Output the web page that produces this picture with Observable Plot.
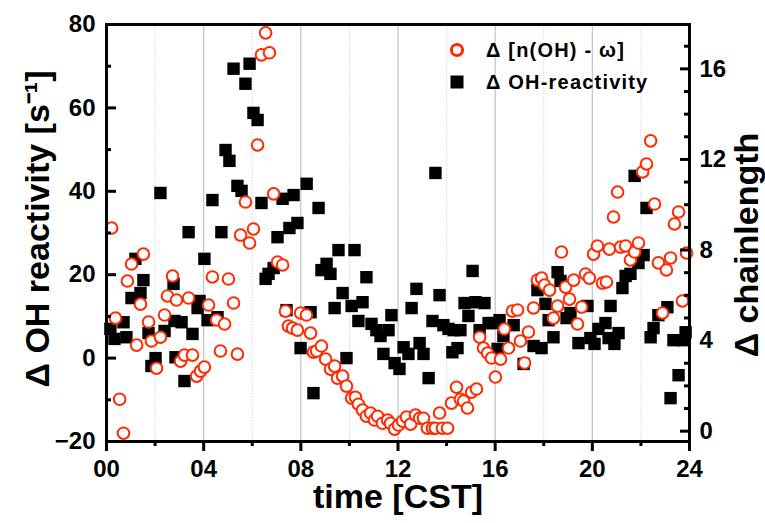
<!DOCTYPE html>
<html>
<head>
<meta charset="utf-8">
<script src="https://cdn.jsdelivr.net/npm/d3@7"></script>
<script src="https://cdn.jsdelivr.net/npm/@observablehq/plot@0.6"></script>
<style>
  html, body { margin: 0; padding: 0; background: #fff; }
  #wrap { position: relative; width: 765px; height: 523px; font-family: "Liberation Sans", Arial, sans-serif; }
  .leg { position: absolute; height: 24px; display: flex; align-items: center; font-weight: bold; font-size: 20px; letter-spacing: 1.2px; color: #000; white-space: nowrap; }
  .leg svg { display: block; margin-right: 20px; }
</style>
</head>
<body>
<div id="wrap"><div id="chart"></div></div>
<script>
// ---- data ----
// Δ OH-reactivity (left axis, s^-1), black squares
const ohHour = [0.16,0.33,0.70,0.82,1.03,1.19,1.40,1.52,1.73,1.85,2.02,2.22,2.39,2.76,2.80,2.84,3.09,3.21,3.38,3.54,3.75,3.83,4.03,4.16,4.36,4.57,4.73,4.90,5.06,5.23,5.39,5.56,5.72,5.89,6.05,6.22,6.38,6.55,6.67,6.88,7.04,7.25,7.41,7.53,7.70,7.86,7.99,8.24,8.40,8.52,8.73,8.85,9.06,9.22,9.39,9.55,9.72,9.88,10.09,10.21,10.37,10.54,10.70,10.91,11.11,11.28,11.40,11.61,11.73,11.86,12.06,12.23,12.43,12.56,12.76,12.89,13.05,13.26,13.42,13.54,13.71,13.87,14.08,14.24,14.29,14.45,14.57,14.74,14.90,15.07,15.19,15.36,15.56,15.73,15.89,16.10,16.18,16.34,16.76,17.17,17.58,17.74,17.91,18.07,18.20,18.40,18.57,18.69,18.94,19.10,19.43,19.80,19.92,20.09,20.25,20.54,20.67,20.75,20.91,21.08,21.24,21.37,21.57,21.74,21.90,22.11,22.23,22.40,22.52,22.72,23.09,23.22,23.34,23.55,23.75,23.84];
const ohValue = [7.0,4.6,8.6,5.0,14.4,23.8,15.6,18.7,6.0,-1.9,0.0,39.6,6.5,17.8,8.9,0.2,8.6,-5.5,30.2,5.8,12.0,13.7,23.8,9.1,37.9,9.8,30.2,49.9,47.3,69.4,41.3,40.1,65.8,70.6,58.8,57.1,37.2,19.0,20.2,21.6,29.0,38.2,11.5,31.2,39.1,32.4,2.4,41.8,11.0,-8.4,36.0,21.1,22.6,20.2,12.0,25.9,15.6,0.0,12.5,25.9,8.9,13.4,19.4,8.2,6.7,5.3,1.0,6.7,10.3,-1.2,-2.6,2.6,1.0,12.0,16.6,3.6,1.0,-4.8,8.9,44.4,15.1,7.9,7.0,1.4,6.7,2.4,6.7,13.2,10.1,20.9,13.4,6.7,13.2,8.4,8.4,2.2,9.1,5.3,7.9,-1.4,2.9,16.3,2.4,13.0,9.1,5.0,20.6,18.5,9.6,10.8,3.6,12.5,4.8,3.4,7.0,8.4,4.8,12.5,3.4,6.0,16.8,19.7,20.2,43.7,22.8,24.7,36.0,5.0,7.2,10.3,12.2,-9.6,4.3,-4.1,4.3,6.2];

// Δ [n(OH) - ω] (right axis, Δ chainlength), red open circles
const chainHour = [0.21,0.37,0.54,0.70,0.86,1.03,1.24,1.40,1.52,1.73,1.85,2.06,2.22,2.39,2.51,2.72,2.88,3.05,3.21,3.38,3.54,3.71,3.87,4.03,4.20,4.36,4.53,4.69,4.86,5.02,5.23,5.39,5.52,5.72,5.89,6.05,6.22,6.38,6.55,6.71,6.88,7.04,7.25,7.37,7.49,7.66,7.86,7.99,8.23,8.40,8.52,8.65,8.85,9.02,9.22,9.39,9.51,9.72,9.88,10.09,10.25,10.37,10.54,10.70,10.87,11.03,11.16,11.36,11.57,11.69,11.86,12.02,12.19,12.35,12.52,12.72,12.89,13.05,13.21,13.42,13.54,13.71,13.83,14.04,14.20,14.41,14.57,14.70,14.86,15.03,15.23,15.36,15.52,15.69,15.85,16.01,16.22,16.38,16.55,16.71,16.92,17.04,17.21,17.37,17.58,17.74,17.91,18.03,18.24,18.40,18.57,18.73,18.90,19.06,19.23,19.39,19.56,19.72,19.88,20.05,20.21,20.42,20.58,20.70,20.87,21.04,21.16,21.37,21.57,21.74,21.90,22.07,22.23,22.40,22.56,22.72,22.89,23.05,23.22,23.38,23.55,23.71,23.88];
const chainValue = [8.97,4.99,1.41,-0.09,6.63,7.38,3.80,5.61,7.82,4.82,3.98,2.78,4.15,5.13,5.97,6.85,5.79,3.09,3.36,5.88,3.36,2.43,2.65,2.83,5.57,6.81,4.91,3.54,4.73,6.72,5.66,3.40,8.66,10.12,8.31,8.93,12.64,16.62,17.59,16.71,10.48,7.47,7.34,5.30,4.64,4.55,4.46,5.22,5.13,4.33,3.49,3.54,3.76,3.18,2.74,2.87,2.34,2.43,1.99,1.46,1.50,1.19,0.93,0.66,0.80,0.49,0.66,0.35,0.49,0.35,0.09,0.27,0.44,0.62,0.31,0.71,0.57,0.57,0.13,0.13,0.13,0.80,0.13,0.13,1.24,1.94,1.41,1.33,1.02,1.72,1.86,4.15,3.67,3.45,3.23,2.39,3.18,4.51,3.67,5.30,5.35,3.98,3.01,4.38,5.44,6.67,6.76,6.45,6.23,4.99,5.52,7.91,6.36,5.83,6.67,4.73,5.48,6.94,6.76,7.82,8.18,6.54,6.59,8.04,9.46,10.56,8.13,8.18,7.56,7.91,8.31,11.45,11.80,12.82,10.03,7.43,5.22,7.12,7.65,9.15,9.68,5.75,7.87];

// axes / ticks / labels
const xDomain = [0, 24];
const yDomain = [-20, 80];
const xMajorTicks = [0, 4, 8, 12, 16, 20, 24];
const xMinorTicks = [2, 6, 10, 14, 18, 22];
const xGridMajor = [4, 8, 12, 16, 20];
const yMajorTicks = [-20, 0, 20, 40, 60, 80];
const yMinorTicks = [-10, 10, 30, 50, 70];
const chainMajorTicks = [0, 4, 8, 12, 16];
const chainMinorTicks = [1, 2, 3, 5, 6, 7, 9, 10, 11, 13, 14, 15, 17];
// secondary-axis mapping: chainlength -> left-axis units
const chainOffset = -17.52, chainScale = 5.43;
const xLabel = "time [CST]";
const yLabel = "\u0394 OH reactivity [s\u207B\u00B9]";
const y2Label = "\u0394 chainlength";
const legendLabels = ["\u0394 [n(OH) - \u03C9]", "\u0394 OH-reactivity"];
const redColor = "#ff2a00";

const toR = c => chainOffset + chainScale * c;
const fromR = r => (r - chainOffset) / chainScale;
const oh = ohHour.map((h, i) => ({h, v: ohValue[i]}));
const ch = chainHour.map((h, i) => ({h, v: chainValue[i]}));

const chart = Plot.plot({
  width: 765, height: 523,
  marginLeft: 106, marginRight: 76, marginTop: 24, marginBottom: 82,
  style: {fontFamily: '"Liberation Sans", Arial, sans-serif', fontWeight: "bold", fontSize: "24px", color: "#000", background: "#fff", overflow: "visible"},
  x: {domain: xDomain, axis: null},
  y: {domain: yDomain, axis: null},
  marks: [
    Plot.gridX(xMinorTicks, {stroke: "#d6d6d6", strokeOpacity: 1, strokeWidth: 1, strokeDasharray: "1.5,1.5"}),
    Plot.gridX(xGridMajor, {stroke: "#c2c2c2", strokeOpacity: 1, strokeWidth: 1.2}),
    Plot.dot(oh, {x: "h", y: "v", symbol: "square", r: 7, fill: "#000", stroke: "none"}),
    Plot.dot(ch, {x: "h", y: d => toR(d.v), r: 5.8, fill: "#fff", stroke: redColor, strokeWidth: 2}),
    Plot.frame({stroke: "#000", strokeWidth: 3}),
    Plot.axisX(xMajorTicks, {label: null, tickSize: 10, tickPadding: 8, strokeWidth: 3, tickFormat: d => String(d).padStart(2, "0")}),
    Plot.axisX(xMinorTicks, {label: null, tickSize: 5, strokeWidth: 3, tickFormat: () => ""}),
    Plot.axisY(yMajorTicks, {label: null, anchor: "left", tickSize: -10, tickPadding: 21, strokeWidth: 3}),
    Plot.axisY(yMinorTicks, {label: null, anchor: "left", tickSize: -5, strokeWidth: 3, tickFormat: () => ""}),
    Plot.axisY(chainMajorTicks.map(toR), {label: null, anchor: "right", tickSize: -10, tickPadding: 20, strokeWidth: 3, tickFormat: r => String(Math.round(fromR(r)))}),
    Plot.axisY(chainMinorTicks.map(toR), {label: null, anchor: "right", tickSize: -6, strokeWidth: 3, tickFormat: () => ""}),
    Plot.text([yLabel], {frameAnchor: "left", textAnchor: "middle", lineAnchor: "middle", dx: -68, dy: -4, rotate: -90, fontSize: 34, fontWeight: "bold", fill: "#000"}),
    Plot.text([y2Label], {frameAnchor: "right", textAnchor: "middle", lineAnchor: "middle", dx: 58, dy: 12, rotate: -90, fontSize: 34, fontWeight: "bold", fill: "#000"}),
    Plot.text([xLabel], {frameAnchor: "bottom", textAnchor: "middle", lineAnchor: "middle", dy: 56, fontSize: 34, fontWeight: "bold", fill: "#000"})
  ]
});
document.getElementById("chart").appendChild(chart);

// legend (inside the plot area, top right)
const wrap = document.getElementById("wrap");
const legendRows = [
  {label: legendLabels[0], top: 38, sym: `<circle cx="9" cy="9" r="5.6" fill="#fff" stroke="${redColor}" stroke-width="3"/>`},
  {label: legendLabels[1], top: 70, sym: `<rect x="2.5" y="2.5" width="13" height="13" fill="#000"/>`}
];
legendRows.forEach(row => {
  const div = document.createElement("div");
  div.className = "leg";
  div.style.left = "448px";
  div.style.top = row.top + "px";
  div.innerHTML = `<svg width="18" height="18" viewBox="0 0 18 18">${row.sym}</svg><span></span>`;
  div.querySelector("span").textContent = row.label;
  wrap.appendChild(div);
});
</script>
</body>
</html>
